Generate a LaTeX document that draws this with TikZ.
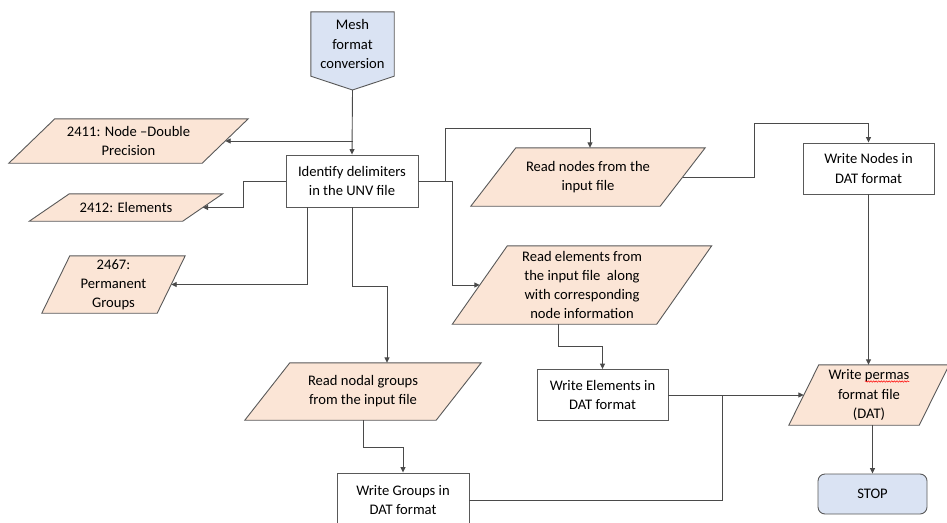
\documentclass[tikz,border=0pt]{standalone}
\usepackage{fontspec}
\setmainfont{Carlito}
\usetikzlibrary{arrows.meta,backgrounds,calc,decorations.pathmorphing}

\definecolor{peach}{HTML}{FBE5D6}
\definecolor{paleblue}{HTML}{DAE3F3}
\definecolor{edgegray}{HTML}{595959}
\definecolor{wiregray}{HTML}{4A4A4A}

% parallelogram drawn round a named node; #2 is the horizontal slant
\newcommand\paraoutline[2]{%
  \path[parashape] ($(#1.south west)+(-#2/2,0)$) -- ($(#1.south east)+(-#2/2,0)$)
    -- ($(#1.north east)+(#2/2,0)$) -- ($(#1.north west)+(#2/2,0)$) -- cycle;}

\newcommand\flowfont{\fontsize{14.6}{19.2}\selectfont}

\tikzset{
  txt/.style={font=\flowfont, align=center, inner sep=0pt, text=black},
  procbox/.style={txt, draw=edgegray, line width=0.9pt, fill=white},
  iobox/.style={txt},
  parashape/.style={fill=peach, draw=edgegray, line width=0.9pt},
  wire/.style={draw=wiregray, line width=0.9pt},
  arr/.style={wire, -{Triangle[length=5.5pt,width=5pt]}},
  spellmark/.style={draw=red, line width=0.5pt,
    decorate, decoration={snake, amplitude=0.7pt, segment length=2.6pt}},
}

\begin{document}
\begin{tikzpicture}[x=1pt,y=-1pt]
\useasboundingbox (0,0) rectangle (947,522);

% start connector
\node[txt, minimum width=83, minimum height=64] (mesh) at (352.5,44) {Mesh\\format\\conversion};
\coordinate (meshtip) at (352.5,90);

% process boxes
\node[procbox, minimum width=132, minimum height=52] (ident) at (352,181) {Identify delimiters\\in the UNV file};
\node[procbox, minimum width=132, minimum height=54] (wgroups) at (403,500) {Write Groups in\\DAT format};
\node[procbox, minimum width=131, minimum height=51] (welem) at (602.5,395) {Write Elements in\\DAT format};
\node[procbox, minimum width=131, minimum height=51] (wnodes) at (868.5,168.5) {Write Nodes in\\DAT format};
\node[txt, draw=edgegray, line width=0.9pt, fill=paleblue, rounded corners=7pt,
      minimum width=109, minimum height=40] (stop) at (872.5,494) {STOP};

% data (input/output) nodes
\node[iobox, minimum width=193, minimum height=44] (n2411) at (128.5,141) {2411: Node –Double\\Precision};
\node[iobox, minimum width=153, minimum height=27] (n2412) at (126,207.5) {2412: Elements};
\node[iobox, minimum width=115, minimum height=57] (n2467) at (113.5,284.5) {2467:\\Permanent\\Groups};
\node[iobox, minimum width=191, minimum height=57] (rgroups) at (363,391.5) {Read nodal groups\\from the input file};
\node[iobox, minimum width=189, minimum height=58] (rnodes) at (588,177) {Read nodes from the\\input file};
\node[iobox, minimum width=204, minimum height=78] (relem) at (582,285)
  {Read elements from\\the input file~ along\\with corresponding\\node information};
\node[iobox, minimum width=130, minimum height=60] (permas) at (869,395)
  {Write permas\\format file\\(DAT)};

% wavy underline under the word "permas"
\flowfont
\pgfmathsetmacro\lineone{width("Write permas")}
\pgfmathsetmacro\wordone{width("Write ")}
\pgfmathsetmacro\wordtwo{width("permas")}
\coordinate (spellA) at ($(permas.center)+(-\lineone/2+\wordone,-13.5)$);
\draw[spellmark] (spellA) -- ++(\wordtwo,0);

\begin{scope}[on background layer]
  \path[fill=paleblue, draw=edgegray, line width=0.9pt]
    (mesh.north west) -- (mesh.north east) -- (mesh.south east) -- (meshtip)
    -- (mesh.south west) -- cycle;
  \paraoutline{n2411}{46}
  \paraoutline{n2412}{40}
  \paraoutline{n2467}{28}
  \paraoutline{rgroups}{45}
  \paraoutline{rnodes}{45}
  \paraoutline{relem}{55}
  \paraoutline{permas}{30}
\end{scope}

% connectors
\draw[arr] (meshtip) -- (ident.north);
\draw[arr] (meshtip |- n2411.east) -- (n2411.east);
\draw[arr] (ident.west) -- ++(-42,0) |- (n2412.east);
\draw[arr] ([xshift=-45pt]ident.south) |- (n2467.east);
\draw[arr] (ident.south) -- ++(0,79) -| ([xshift=24pt]rgroups.north);
\draw[arr] (ident.east) -- ++(27,0) -- ++(0,-53) -| ([xshift=2pt]rnodes.north);
\draw[arr] (ident.east) -- ++(34,0) |- (relem.west);
\draw[arr] (rnodes.east) -- ++(72,0) -- ++(0,-54) -| (wnodes.north);
\draw[arr] (wnodes.south) -- (wnodes.south |- permas.north);
\draw[arr] ([xshift=-24pt]relem.south) -- ++(0,22) -| (welem.north);
\draw[arr] (welem.east) -- (permas.west);
\draw[arr] (rgroups.south) -- ++(0,27) -| (wgroups.north);
\coordinate (merge) at (722,395);
\draw[wire] (wgroups.east) -| (merge);
\draw[arr] (stop.north |- permas.south) -- (stop.north);
\end{tikzpicture}
\end{document}
